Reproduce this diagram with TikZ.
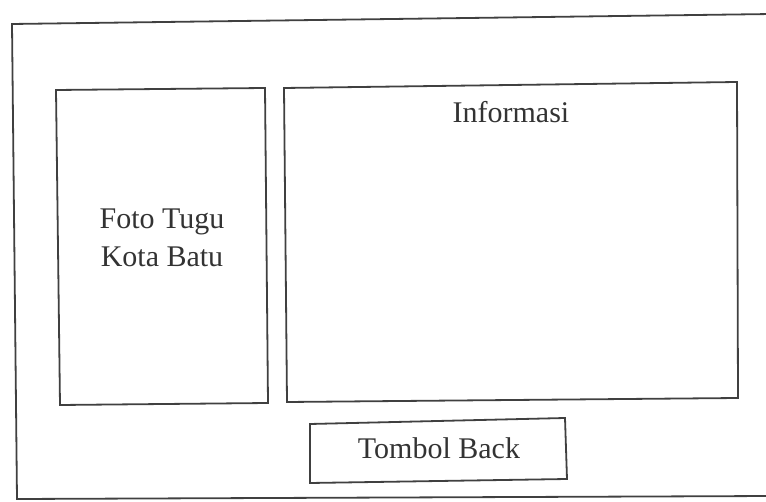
\documentclass[tikz,border=0pt]{standalone}
\usepackage{fontspec}
\setmainfont{Liberation Serif}
\begin{document}
\begin{tikzpicture}[x=1pt,y=-1pt,
  frame/.style={draw=black!75,line width=1.8pt,line join=miter},
  lbl/.style={font=\fontsize{30}{38}\selectfont,text=black!80,align=center,inner sep=0pt}]
\useasboundingbox (0,0) rectangle (766,502);
% outer frame (right edge lies outside the picture)
\draw[frame] (772,14) -- (12,24) -- (17,499) -- (772,496);
% photo box
\draw[frame] (56,90) -- (265,88) -- (268,403) -- (60,405) -- cycle;
% information box
\draw[frame] (284,88) -- (737,82) -- (738,398) -- (287,402) -- cycle;
% back button
\draw[frame] (310,424) -- (565,418) -- (567,479) -- (310,483) -- cycle;
\node[lbl] (foto) at (162,238) {Foto Tugu\\Kota Batu};
\node[lbl] (info) at (511,112) {Informasi};
\node[lbl] (back) at (439,448) {Tombol Back};
\end{tikzpicture}
\end{document}
